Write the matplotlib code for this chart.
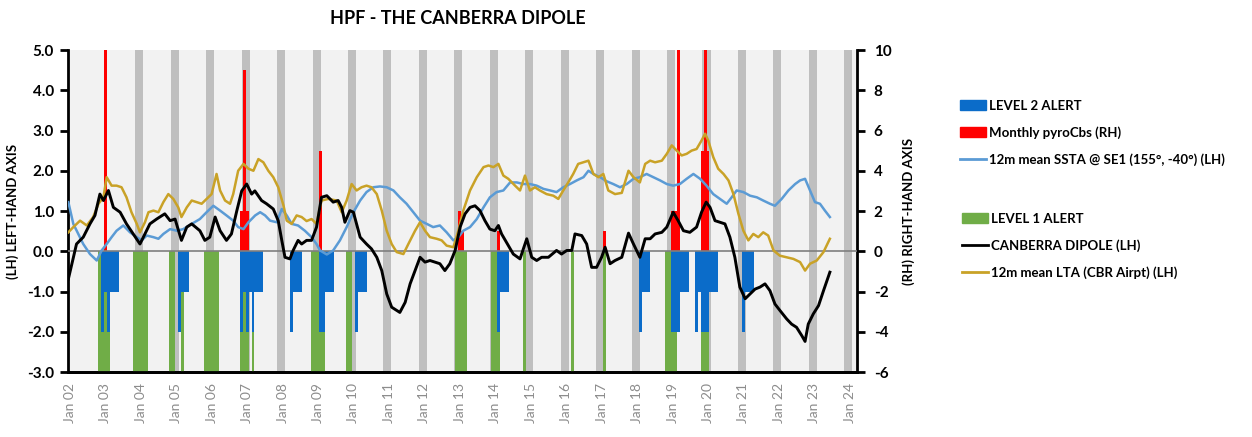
import matplotlib
matplotlib.use('Agg')
import matplotlib.pyplot as plt
import matplotlib.patches as mpatches
from matplotlib.lines import Line2D

plt.rcParams['font.family'] = ['Lato', 'DejaVu Sans']

#..........alert months (LH axis) and pyroCbs (RH axis)
level1_months = ['2002-11', '2002-12', '2003-01', '2003-02',
                 '2003-11', '2003-12', '2004-01', '2004-02', '2004-03',
                 '2004-11', '2004-12', '2005-03',
                 '2005-11', '2005-12', '2006-01', '2006-02', '2006-03',
                 '2006-11', '2006-12', '2007-01', '2007-03',
                 '2008-11', '2008-12', '2009-01', '2009-02', '2009-03',
                 '2009-11', '2009-12',
                 '2012-12', '2013-01', '2013-02', '2013-03',
                 '2013-12', '2014-01', '2014-02',
                 '2014-11', '2016-03', '2017-02',
                 '2018-11', '2018-12', '2019-01', '2019-02',
                 '2019-11', '2019-12', '2020-01']

level2_months = ['2002-12', '2003-01', '2003-02', '2003-03', '2003-04', '2003-05',
                 '2005-02', '2005-03', '2005-04', '2005-05',
                 '2006-11', '2006-12', '2007-01', '2007-02', '2007-03', '2007-04', '2007-05', '2007-06',
                 '2008-04', '2008-05', '2008-06', '2008-07',
                 '2009-02', '2009-03', '2009-04', '2009-05', '2009-06',
                 '2010-02', '2010-03', '2010-04', '2010-05',
                 '2014-02', '2014-03', '2014-04', '2014-05',
                 '2018-02', '2018-03', '2018-04', '2018-05',
                 '2019-01', '2019-02', '2019-03', '2019-04', '2019-05', '2019-06',
                 '2019-09', '2019-10', '2019-11', '2019-12', '2020-01', '2020-02', '2020-03', '2020-04',
                 '2021-01', '2021-02', '2021-03', '2021-04']
level2_depth = [-2, -1, -2, -1, -1, -1,
                -2, -1, -1, -1,
                -2, -1, -2, -1, -2, -1, -1, -1,
                -2, -1, -1, -1,
                -2, -2, -1, -1, -1,
                -2, -1, -1, -1,
                -2, -1, -1, -1,
                -2, -1, -1, -1,
                -2, -2, -2, -1, -1, -1,
                -2, -1, -2, -2, -2, -1, -1, -1,
                -2, -1, -1, -1]

pyrocb_months = ['2003-01', '2006-11', '2006-12', '2007-01', '2009-02', '2013-01', '2013-02',
                 '2014-02', '2017-02', '2019-01', '2019-02', '2019-03', '2019-11', '2019-12', '2020-01']
pyrocb_counts = [15, 2, 9, 2, 5, 2, 1, 1, 1, 2, 2, 12, 5, 14, 5]

#..........12 month lines (LH axis), x in decimal years
dipole_t = [2002.00, 2002.23, 2002.42, 2002.61, 2002.75, 2002.89, 2002.99, 2003.13, 2003.27, 2003.46,
            2003.64, 2003.83, 2004.02, 2004.16, 2004.30, 2004.49, 2004.72, 2004.87, 2005.01, 2005.19,
            2005.34, 2005.48, 2005.71, 2005.85, 2005.99, 2006.14, 2006.28, 2006.46, 2006.60, 2006.75,
            2006.89, 2007.03, 2007.17, 2007.26, 2007.45, 2007.59, 2007.78, 2007.92, 2008.02, 2008.11,
            2008.25, 2008.34, 2008.48, 2008.58, 2008.72, 2008.86, 2009.00, 2009.14, 2009.29, 2009.47,
            2009.61, 2009.71, 2009.80, 2009.94, 2010.04, 2010.13, 2010.23, 2010.41, 2010.55, 2010.70,
            2010.84, 2010.98, 2011.12, 2011.26, 2011.35, 2011.50, 2011.64, 2011.78, 2011.92, 2012.06,
            2012.20, 2012.34, 2012.48, 2012.62, 2012.76, 2012.91, 2013.05, 2013.19, 2013.33, 2013.47,
            2013.61, 2013.75, 2013.89, 2014.03, 2014.13, 2014.22, 2014.36, 2014.55, 2014.74, 2014.93,
            2015.07, 2015.21, 2015.35, 2015.54, 2015.77, 2015.91, 2016.06, 2016.20, 2016.29, 2016.48,
            2016.62, 2016.76, 2016.90, 2017.04, 2017.14, 2017.28, 2017.42, 2017.61, 2017.80, 2017.94,
            2018.12, 2018.27, 2018.41, 2018.55, 2018.74, 2018.88, 2019.06, 2019.20, 2019.35, 2019.53,
            2019.72, 2019.86, 2019.99, 2020.10, 2020.24, 2020.38, 2020.52, 2020.66, 2020.80, 2020.94,
            2021.09, 2021.23, 2021.37, 2021.51, 2021.65, 2021.79, 2021.93, 2022.07, 2022.26, 2022.40,
            2022.54, 2022.69, 2022.78, 2022.87, 2023.01, 2023.16, 2023.30, 2023.48]
dipole_v = [-0.69, 0.18, 0.35, 0.68, 0.89, 1.42, 1.26, 1.51, 1.09, 0.97,
            0.68, 0.43, 0.18, 0.43, 0.68, 0.80, 0.93, 0.76, 0.80, 0.27,
            0.60, 0.68, 0.51, 0.27, 0.35, 0.85, 0.51, 0.27, 0.43, 1.00,
            1.50, 1.67, 1.42, 1.50, 1.26, 1.18, 1.05, 0.76, 0.27, -0.15,
            -0.19, 0.02, 0.27, 0.18, 0.27, 0.27, 0.60, 1.34, 1.38, 1.22,
            1.26, 1.09, 0.72, 1.01, 0.97, 0.68, 0.35, 0.18, 0.06, -0.15,
            -0.48, -1.06, -1.39, -1.47, -1.52, -1.27, -0.81, -0.48, -0.15, -0.27,
            -0.23, -0.27, -0.31, -0.48, -0.31, 0.02, 0.60, 0.93, 1.09, 1.13,
            1.01, 0.76, 0.55, 0.51, 0.64, 0.43, 0.22, -0.07, -0.19, 0.31,
            -0.15, -0.23, -0.15, -0.15, 0.02, -0.07, 0.02, 0.02, 0.43, 0.39,
            0.18, -0.40, -0.40, -0.15, 0.10, -0.31, -0.23, -0.15, 0.45, 0.18,
            -0.15, 0.31, 0.31, 0.43, 0.47, 0.60, 0.97, 0.76, 0.51, 0.47,
            0.60, 0.97, 1.22, 1.09, 0.76, 0.72, 0.68, 0.35, -0.15, -0.89,
            -1.18, -1.06, -0.94, -0.89, -0.81, -0.98, -1.31, -1.47, -1.68, -1.81,
            -1.89, -2.10, -2.24, -1.81, -1.56, -1.35, -0.98, -0.52]

lta_t = [2002.00, 2002.14, 2002.33, 2002.52, 2002.70, 2002.85, 2002.99, 2003.08, 2003.22, 2003.36,
         2003.50, 2003.64, 2003.78, 2003.93, 2004.02, 2004.16, 2004.26, 2004.40, 2004.54, 2004.68,
         2004.82, 2004.96, 2005.10, 2005.19, 2005.34, 2005.48, 2005.62, 2005.76, 2005.90, 2006.04,
         2006.18, 2006.28, 2006.42, 2006.56, 2006.65, 2006.79, 2006.94, 2007.08, 2007.22, 2007.36,
         2007.50, 2007.64, 2007.78, 2007.92, 2008.07, 2008.16, 2008.30, 2008.44, 2008.58, 2008.72,
         2008.86, 2009.00, 2009.14, 2009.33, 2009.57, 2009.71, 2009.85, 2009.99, 2010.13, 2010.27,
         2010.41, 2010.55, 2010.70, 2010.84, 2010.98, 2011.12, 2011.26, 2011.45, 2011.59, 2011.78,
         2011.92, 2012.06, 2012.20, 2012.39, 2012.53, 2012.67, 2012.86, 2013.00, 2013.14, 2013.33,
         2013.52, 2013.71, 2013.85, 2013.99, 2014.13, 2014.27, 2014.41, 2014.60, 2014.74, 2014.88,
         2015.02, 2015.16, 2015.30, 2015.49, 2015.68, 2015.82, 2015.96, 2016.10, 2016.24, 2016.38,
         2016.53, 2016.67, 2016.81, 2016.95, 2017.09, 2017.23, 2017.42, 2017.61, 2017.80, 2017.94,
         2018.12, 2018.27, 2018.41, 2018.55, 2018.74, 2018.88, 2019.02, 2019.16, 2019.30, 2019.44,
         2019.58, 2019.72, 2019.86, 2019.96, 2020.05, 2020.19, 2020.33, 2020.48, 2020.62, 2020.76,
         2020.90, 2021.04, 2021.18, 2021.32, 2021.46, 2021.60, 2021.74, 2021.89, 2022.07, 2022.26,
         2022.45, 2022.64, 2022.78, 2022.92, 2023.11, 2023.30, 2023.48]
lta_v = [0.47, 0.60, 0.76, 0.64, 0.85, 1.18, 1.34, 1.84, 1.63, 1.63,
         1.59, 1.34, 0.97, 0.68, 0.47, 0.72, 0.97, 1.01, 0.97, 1.22,
         1.42, 1.30, 1.09, 0.85, 1.09, 1.26, 1.22, 1.18, 1.30, 1.42,
         1.92, 1.51, 1.26, 1.18, 1.42, 2.00, 2.17, 2.05, 2.00, 2.29,
         2.21, 2.00, 1.84, 1.59, 1.13, 0.76, 0.68, 0.89, 0.85, 0.75,
         0.80, 0.68, 1.26, 1.30, 1.26, 0.97, 1.26, 1.67, 1.51, 1.59,
         1.63, 1.59, 1.42, 1.01, 0.51, 0.18, -0.02, -0.07, 0.18, 0.51,
         0.72, 0.51, 0.35, 0.31, 0.27, 0.14, 0.10, 0.51, 1.01, 1.51,
         1.84, 2.09, 2.13, 2.09, 2.17, 1.88, 1.80, 1.63, 1.51, 1.88,
         1.51, 1.59, 1.51, 1.42, 1.38, 1.30, 1.51, 1.71, 1.92, 2.17,
         2.21, 2.25, 1.92, 1.84, 1.92, 1.51, 1.42, 1.45, 2.00, 1.84,
         1.71, 2.17, 2.25, 2.21, 2.25, 2.42, 2.63, 2.50, 2.38, 2.42,
         2.50, 2.54, 2.75, 2.92, 2.75, 2.34, 2.05, 1.92, 1.76, 1.42,
         0.93, 0.51, 0.27, 0.43, 0.35, 0.47, 0.39, 0.02, -0.11, -0.15,
         -0.19, -0.27, -0.48, -0.31, -0.23, -0.02, 0.31]

ssta_t = [2002.00, 2002.14, 2002.28, 2002.42, 2002.61, 2002.80, 2002.94, 2003.08, 2003.22, 2003.36,
          2003.55, 2003.74, 2003.93, 2004.07, 2004.21, 2004.40, 2004.54, 2004.68, 2004.87, 2005.06,
          2005.24, 2005.48, 2005.71, 2005.90, 2006.09, 2006.28, 2006.46, 2006.65, 2006.79, 2006.94,
          2007.08, 2007.27, 2007.41, 2007.55, 2007.69, 2007.88, 2008.02, 2008.16, 2008.30, 2008.48,
          2008.67, 2008.86, 2009.00, 2009.10, 2009.29, 2009.47, 2009.66, 2009.85, 2010.04, 2010.23,
          2010.41, 2010.60, 2010.79, 2010.98, 2011.17, 2011.35, 2011.54, 2011.73, 2011.92, 2012.11,
          2012.29, 2012.48, 2012.67, 2012.86, 2013.00, 2013.14, 2013.33, 2013.52, 2013.71, 2013.89,
          2014.08, 2014.27, 2014.46, 2014.65, 2014.83, 2015.02, 2015.21, 2015.40, 2015.59, 2015.77,
          2015.96, 2016.15, 2016.34, 2016.53, 2016.67, 2016.81, 2017.00, 2017.18, 2017.37, 2017.56,
          2017.75, 2017.94, 2018.12, 2018.31, 2018.50, 2018.69, 2018.88, 2019.06, 2019.25, 2019.44,
          2019.63, 2019.82, 2020.00, 2020.19, 2020.38, 2020.57, 2020.71, 2020.85, 2021.04, 2021.23,
          2021.42, 2021.60, 2021.79, 2021.93, 2022.12, 2022.31, 2022.50, 2022.64, 2022.78, 2022.92,
          2023.06, 2023.20, 2023.34, 2023.48]
ssta_v = [1.22, 0.68, 0.43, 0.18, -0.07, -0.23, 0.02, 0.18, 0.35, 0.51,
          0.64, 0.47, 0.35, 0.27, 0.39, 0.35, 0.31, 0.43, 0.55, 0.51,
          0.55, 0.68, 0.80, 0.97, 1.13, 1.01, 0.89, 0.76, 0.60, 0.55,
          0.72, 0.89, 0.97, 0.89, 0.76, 0.72, 1.05, 0.89, 0.68, 0.64,
          0.51, 0.35, 0.18, 0.02, -0.08, 0.02, 0.27, 0.60, 0.97, 1.26,
          1.47, 1.59, 1.61, 1.59, 1.51, 1.34, 1.18, 0.97, 0.76, 0.68,
          0.60, 0.64, 0.47, 0.27, 0.35, 0.51, 0.60, 0.80, 1.09, 1.34,
          1.47, 1.51, 1.71, 1.71, 1.67, 1.67, 1.63, 1.55, 1.51, 1.47,
          1.59, 1.67, 1.76, 1.84, 2.00, 1.92, 1.84, 1.74, 1.67, 1.59,
          1.67, 1.80, 1.84, 1.92, 1.84, 1.76, 1.67, 1.63, 1.67, 1.80,
          1.92, 1.80, 1.63, 1.42, 1.30, 1.18, 1.34, 1.51, 1.47, 1.38,
          1.34, 1.26, 1.18, 1.13, 1.30, 1.51, 1.67, 1.76, 1.80, 1.51,
          1.22, 1.18, 1.01, 0.85]

years = list(range(2002, 2025))
summer_years = list(range(2004, 2025))


def month_pos(s):
    y, m = s.split('-')
    return int(y) + (int(m) - 1) / 12 + 1 / 24


fig = plt.figure(figsize=(12.52, 4.37), dpi=100)
ax = fig.add_axes([68 / 1252, 1 - 372 / 437, 789 / 1252, 322 / 437])
ax2 = ax.twinx()

# back axis: background, summer bands, pyroCbs
ax.set_zorder(ax2.get_zorder() + 1)
ax.patch.set_visible(False)
ax2.patch.set_visible(True)
ax2.patch.set_facecolor('#F2F2F2')
for y in summer_years:
    ax2.axvspan(y - 0.113, y + 0.113, color='#BFBFBF', lw=0, zorder=0)
ax2.bar([month_pos(m) for m in pyrocb_months], pyrocb_counts, width=1 / 12,
        color='#FF0000', lw=0, zorder=2)

# front axis: alerts and lines
ax.bar([month_pos(m) for m in level1_months], [-3] * len(level1_months), width=1 / 12,
       color='#70AD47', lw=0, zorder=2)
ax.bar([month_pos(m) for m in level2_months], level2_depth, width=1 / 12,
       color='#0B6CC9', lw=0, zorder=3)
ax.axhline(0, color='#7F7F7F', lw=1.2, zorder=4)
ax.plot(ssta_t, ssta_v, color='#5B9BD5', lw=1.8, zorder=5)
ax.plot(lta_t, lta_v, color='#C9A227', lw=1.8, zorder=6)
ax.plot(dipole_t, dipole_v, color='black', lw=2.1, zorder=7)

ax.set_xlim(2001.99, 2024.245)
ax.set_ylim(-3, 5)
ax2.set_ylim(-6, 10)
ax.set_yticks(range(-3, 6))
ax.set_yticklabels(['%.1f' % v for v in range(-3, 6)], fontweight='bold', fontsize=11)
ax2.set_yticks(range(-6, 11, 2))
ax2.set_yticklabels([str(v) for v in range(-6, 11, 2)], fontweight='bold', fontsize=11)
ax.set_xticks([y + 1 / 24 for y in years])
ax.set_xticklabels(['Jan %02d' % (y % 100) for y in years], rotation=90,
                   color='#8C8C8C', fontsize=10)
ax.tick_params(axis='x', length=0, pad=8)
ax.tick_params(axis='y', length=6, width=2, direction='out', pad=4)
ax2.tick_params(axis='y', length=6, width=2, direction='out', pad=6)

for a in (ax, ax2):
    a.spines['top'].set_visible(False)
    for side in ('left', 'right', 'bottom'):
        a.spines[side].set_linewidth(2)
ax.spines['right'].set_visible(False)
ax2.spines['left'].set_visible(False)

ax.set_ylabel('(LH) LEFT-HAND AXIS', fontweight='bold', fontsize=9.5, labelpad=6)
ax2.set_ylabel('(RH) RIGHT-HAND AXIS', fontweight='bold', fontsize=9.5, labelpad=8)

fig.text(458 / 1252, 1 - 18 / 437, 'HPF - THE CANBERRA DIPOLE', ha='center', va='center',
         fontweight='bold', fontsize=13)

h1 = [mpatches.Patch(color='#0B6CC9'), mpatches.Patch(color='#FF0000'),
      Line2D([], [], color='#5B9BD5', lw=2)]
l1 = ['LEVEL 2 ALERT', 'Monthly pyroCbs (RH)', '12m mean SSTA @ SE1 (155°, -40°) (LH)']
h2 = [mpatches.Patch(color='#70AD47'), Line2D([], [], color='black', lw=2),
      Line2D([], [], color='#C9A227', lw=2)]
l2 = ['LEVEL 1 ALERT', 'CANBERRA DIPOLE (LH)', '12m mean LTA (CBR Airpt) (LH)']
leg_kw = dict(frameon=False, loc='upper left', handlelength=2.0, handletextpad=0.25,
              labelspacing=1.1, borderpad=0, prop={'weight': 'bold', 'size': 9.5})
fig.legend(h1, l1, bbox_to_anchor=(953 / 1252, 1 - 93 / 437), **leg_kw)
fig.legend(h2, l2, bbox_to_anchor=(955 / 1252, 1 - 206 / 437), **leg_kw)

fig.savefig('out.png', dpi=100)
